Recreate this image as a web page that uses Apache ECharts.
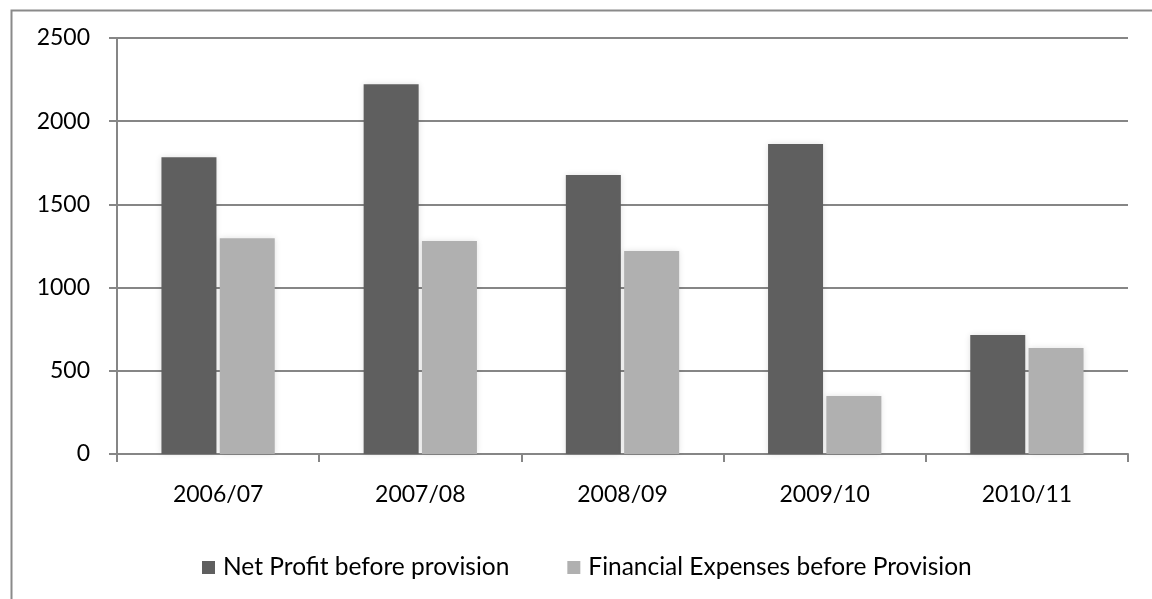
<!DOCTYPE html>
<html>
<head>
<meta charset="utf-8">
<script src="https://cdn.jsdelivr.net/npm/echarts@6/dist/echarts.min.js"></script>
<style>
html,body{margin:0;padding:0;background:#fff;}
#main{width:1152px;height:599px;}
</style>
</head>
<body>
<div id="main"></div>
<script>
const categories = ['2006/07','2007/08','2008/09','2009/10','2010/11'];
const netProfit = [1783, 2222, 1677, 1863, 715];
const financialExpenses = [1296, 1280, 1220, 349, 637];
const seriesNames = ['Net Profit before provision','Financial Expenses before Provision'];
const yTicks = {min:0, max:2500, interval:500};

const chart = echarts.init(document.getElementById('main'), null, {renderer:'canvas'});
const font = 'Lato, "Open Sans", sans-serif';
chart.setOption({
  animation:false,
  backgroundColor:'#fff',
  graphic:[{
    type:'rect', left:9, top:8, z:-1,
    shape:{width:1200, height:700},
    style:{fill:'none', stroke:'#8a8a8a', lineWidth:2}
  }],
  grid:{left:117, right:24, top:38, bottom:145, containLabel:false},
  legend:{
    data:seriesNames,
    top:550, left:197,
    itemWidth:13, itemHeight:13, itemGap:58,
    icon:'rect',
    textStyle:{fontFamily:font, fontSize:24.5, color:'#000', padding:[0,0,0,3]}
  },
  xAxis:{
    type:'category', data:categories,
    axisLine:{lineStyle:{color:'#868686', width:2}},
    axisTick:{show:true, length:8, lineStyle:{color:'#868686', width:2}},
    axisLabel:{fontFamily:font, fontSize:23, color:'#000', margin:29}
  },
  yAxis:{
    type:'value', min:yTicks.min, max:yTicks.max, interval:yTicks.interval,
    axisLine:{show:true, lineStyle:{color:'#868686', width:2}},
    axisTick:{show:true, length:8, lineStyle:{color:'#868686', width:2}},
    splitLine:{lineStyle:{color:'#868686', width:2}},
    axisLabel:{fontFamily:font, fontSize:23, color:'#000', margin:27,
      formatter:function(v){return String(v);}}
  },
  series:[
    {name:seriesNames[0], type:'bar', data:netProfit, barWidth:55, barGap:'6%',
     itemStyle:{color:'#5f5f5f', shadowBlur:6, shadowColor:'rgba(0,0,0,0.12)'}},
    {name:seriesNames[1], type:'bar', data:financialExpenses, barWidth:55,
     itemStyle:{color:'#b0b0b0', shadowBlur:6, shadowColor:'rgba(0,0,0,0.12)'}}
  ]
});
</script>
</body>
</html>
